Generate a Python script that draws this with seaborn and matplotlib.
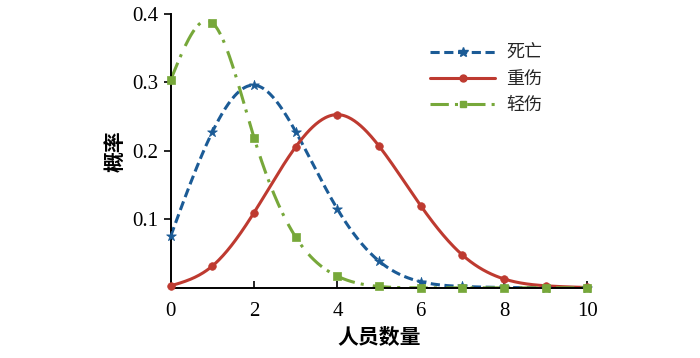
import numpy as np
import pandas as pd
import matplotlib
matplotlib.use("Agg")
import matplotlib.pyplot as plt
import seaborn as sns
from matplotlib.lines import Line2D

x_vals = [0, 1, 2, 3, 4, 5, 6, 7, 8, 9, 10]
death = [0.076, 0.228, 0.296, 0.228, 0.115, 0.039, 0.009, 0.002, 0.0005, 0.0, 0.0]
serious = [0.003, 0.032, 0.110, 0.206, 0.253, 0.207, 0.120, 0.048, 0.013, 0.003, 0.0005]
light = [0.304, 0.387, 0.219, 0.074, 0.017, 0.002, 0.0, 0.0, 0.0, 0.0, 0.0]
labels = ["死亡", "重伤", "轻伤"]
x_ticks = [0, 2, 4, 6, 8, 10]
y_ticks = [0.1, 0.2, 0.3, 0.4]

sns.set_theme(style="ticks")
plt.rcParams['font.family'] = ['Liberation Serif', 'Noto Sans CJK SC', 'DejaVu Sans']


def natural_spline(x, y, n=400):
    x = np.asarray(x, float)
    y = np.asarray(y, float)
    k = len(x)
    h = np.diff(x)
    A = np.zeros((k, k))
    b = np.zeros(k)
    A[0, 0] = 1
    A[-1, -1] = 1
    for i in range(1, k - 1):
        A[i, i - 1] = h[i - 1]
        A[i, i] = 2 * (h[i - 1] + h[i])
        A[i, i + 1] = h[i]
        b[i] = 3 * ((y[i + 1] - y[i]) / h[i] - (y[i] - y[i - 1]) / h[i - 1])
    c = np.linalg.solve(A, b)
    xs = np.linspace(x[0], x[-1], n)
    ys = np.empty_like(xs)
    for j, xv in enumerate(xs):
        i = min(np.searchsorted(x, xv, side='right') - 1, k - 2)
        dx = xv - x[i]
        bi = (y[i + 1] - y[i]) / h[i] - h[i] * (2 * c[i] + c[i + 1]) / 3
        di = (c[i + 1] - c[i]) / (3 * h[i])
        ys[j] = y[i] + bi * dx + c[i] * dx ** 2 + di * dx ** 3
    return xs, np.clip(ys, 0, None)


colors = ["#1b5b96", "#be3a30", "#77a83a"]
markers = ["*", "o", "s"]
dashes = [(3, 1.5), (), (6, 2, 1, 3)]
series = [death, serious, light]

fig = plt.figure(figsize=(7, 3.58), dpi=100)
ax = fig.add_axes([0.244, 0.196, 0.595, 0.765])

handles = []
for ys, col, mk, ds, lab in zip(series, colors, markers, dashes, labels):
    sx, sy = natural_spline(x_vals, ys)
    df_s = pd.DataFrame({"x": sx, "y": sy})
    sns.lineplot(data=df_s, x="x", y="y", ax=ax, color=col, lw=2.2)
    ln = ax.lines[-1]
    if ds:
        ln.set_dashes(ds)
    df_p = pd.DataFrame({"x": x_vals, "y": ys})
    sns.scatterplot(data=df_p, x="x", y="y", ax=ax, color=col, marker=mk,
                    s=55 if mk == "*" else 30, edgecolor=col, linewidth=0.5, zorder=3, clip_on=False)
    h = Line2D([0], [0], color=col, lw=2.2, marker=mk, markersize=7 if mk == "*" else 5,
               markevery=[1])
    if ds:
        h.set_dashes(ds)
    handles.append(h)

ax.set_xlim(0, 10)
ax.set_ylim(0, 0.4)
ax.set_xticks(x_ticks)
ax.set_yticks(y_ticks)
ax.set_yticklabels([f"{v:.1f}" for v in y_ticks])
sns.despine(ax=ax)
ax.tick_params(axis='x', direction='in', length=5, width=1.2, labelsize=15, pad=10, colors='black')
ax.tick_params(axis='y', direction='out', length=5, width=1.2, labelsize=15, pad=4, colors='black')
for sp in ax.spines.values():
    sp.set_linewidth(1.4)
    sp.set_color('black')
ax.set_xlabel("人员数量", fontsize=15, fontweight='bold', color='black', labelpad=5)
ax.set_ylabel("概率", fontsize=15, fontweight='bold', color='black', labelpad=4)

leg = ax.legend(handles, labels, loc='upper right', bbox_to_anchor=(0.93, 0.95), frameon=False,
                fontsize=13, handlelength=3.6, labelspacing=0.45, handletextpad=0.6)
for t in leg.get_texts():
    t.set_fontfamily(['Noto Sans CJK SC'])

fig.savefig("out.png", dpi=100)
